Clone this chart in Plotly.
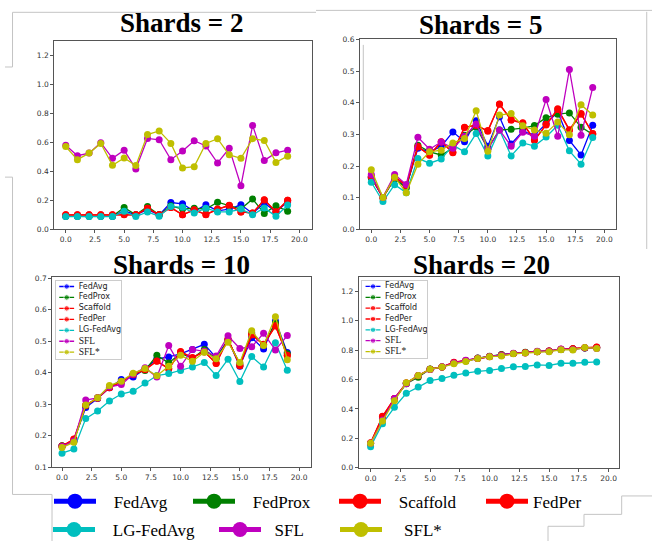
import plotly.graph_objects as go

W, H = 652, 548

# ---------------- data ----------------
ROUNDS = list(range(20))
METHODS = ["FedAvg", "FedProx", "Scaffold", "FedPer", "LG-FedAvg", "SFL", "SFL*"]
COLORS = ["#0000ff", "#008000", "#ff0000", "#ff0000", "#00bfbf", "#bf00bf", "#bfbf00"]
TITLES = ["Shards = 2", "Shards = 5", "Shards = 10", "Shards = 20"]

S2_FEDAVG = [0.09, 0.09, 0.09, 0.09, 0.09, 0.128, 0.10, 0.135, 0.10, 0.185, 0.176, 0.124, 0.169, 0.128, 0.14, 0.169, 0.11, 0.182, 0.12, 0.19]
S2_FEDPROX = [0.09, 0.09, 0.09, 0.09, 0.09, 0.151, 0.10, 0.158, 0.10, 0.162, 0.14, 0.146, 0.14, 0.187, 0.162, 0.14, 0.209, 0.11, 0.163, 0.124]
S2_SCAFFOLD = [0.10, 0.10, 0.10, 0.10, 0.10, 0.10, 0.10, 0.146, 0.10, 0.151, 0.10, 0.133, 0.103, 0.14, 0.164, 0.12, 0.112, 0.204, 0.122, 0.20]
S2_FEDPER = [0.10, 0.10, 0.10, 0.10, 0.10, 0.102, 0.10, 0.145, 0.10, 0.15, 0.10, 0.135, 0.10, 0.138, 0.166, 0.12, 0.113, 0.203, 0.12, 0.201]
S2_LGFEDAVG = [0.088, 0.088, 0.088, 0.088, 0.088, 0.124, 0.088, 0.12, 0.09, 0.158, 0.152, 0.113, 0.146, 0.12, 0.12, 0.14, 0.10, 0.148, 0.09, 0.167]
S2_SFL = [0.579, 0.507, 0.525, 0.597, 0.489, 0.545, 0.416, 0.626, 0.617, 0.48, 0.54, 0.61, 0.574, 0.457, 0.558, 0.30, 0.716, 0.475, 0.527, 0.545]
S2_SFLSTAR = [0.57, 0.48, 0.525, 0.592, 0.441, 0.491, 0.439, 0.653, 0.678, 0.592, 0.423, 0.432, 0.592, 0.624, 0.513, 0.489, 0.624, 0.612, 0.461, 0.504]

S5_FEDAVG = [0.163, 0.101, 0.16, 0.134, 0.256, 0.245, 0.262, 0.308, 0.277, 0.343, 0.263, 0.356, 0.27, 0.31, 0.297, 0.335, 0.371, 0.281, 0.235, 0.329]
S5_FEDPROX = [0.163, 0.101, 0.16, 0.131, 0.266, 0.245, 0.235, 0.256, 0.297, 0.323, 0.255, 0.314, 0.316, 0.32, 0.328, 0.353, 0.364, 0.368, 0.323, 0.30]
S5_SCAFFOLD = [0.167, 0.101, 0.165, 0.139, 0.262, 0.234, 0.276, 0.242, 0.323, 0.328, 0.312, 0.395, 0.345, 0.335, 0.281, 0.332, 0.379, 0.313, 0.364, 0.303]
S5_FEDPER = [0.166, 0.101, 0.166, 0.139, 0.26, 0.235, 0.277, 0.244, 0.322, 0.33, 0.31, 0.396, 0.347, 0.337, 0.283, 0.33, 0.381, 0.315, 0.366, 0.302]
S5_LGFEDAVG = [0.149, 0.088, 0.141, 0.116, 0.224, 0.209, 0.222, 0.266, 0.245, 0.303, 0.232, 0.314, 0.232, 0.273, 0.263, 0.292, 0.329, 0.248, 0.206, 0.29]
S5_SFL = [0.173, 0.101, 0.173, 0.142, 0.291, 0.253, 0.276, 0.256, 0.294, 0.333, 0.253, 0.314, 0.263, 0.307, 0.294, 0.41, 0.294, 0.505, 0.297, 0.448]
S5_SFLSTAR = [0.188, 0.101, 0.165, 0.116, 0.206, 0.245, 0.25, 0.273, 0.287, 0.375, 0.247, 0.361, 0.366, 0.327, 0.314, 0.304, 0.339, 0.299, 0.394, 0.361]

S10_FEDAVG = [0.167, 0.185, 0.289, 0.318, 0.352, 0.378, 0.386, 0.412, 0.444, 0.45, 0.46, 0.474, 0.49, 0.448, 0.505, 0.42, 0.511, 0.475, 0.564, 0.464]
S10_FEDPROX = [0.168, 0.183, 0.295, 0.32, 0.355, 0.372, 0.395, 0.407, 0.455, 0.431, 0.462, 0.445, 0.474, 0.445, 0.503, 0.428, 0.527, 0.488, 0.558, 0.46]
S10_SCAFFOLD = [0.166, 0.188, 0.296, 0.319, 0.352, 0.37, 0.393, 0.41, 0.437, 0.412, 0.467, 0.447, 0.468, 0.429, 0.507, 0.422, 0.522, 0.49, 0.548, 0.454]
S10_FEDPER = [0.167, 0.189, 0.297, 0.32, 0.353, 0.371, 0.394, 0.409, 0.436, 0.413, 0.466, 0.448, 0.466, 0.43, 0.506, 0.423, 0.52, 0.489, 0.549, 0.455]
S10_LGFEDAVG = [0.144, 0.157, 0.254, 0.278, 0.31, 0.332, 0.341, 0.367, 0.391, 0.397, 0.407, 0.418, 0.432, 0.391, 0.443, 0.372, 0.451, 0.418, 0.495, 0.408]
S10_SFL = [0.165, 0.183, 0.313, 0.32, 0.355, 0.362, 0.395, 0.416, 0.386, 0.486, 0.42, 0.474, 0.468, 0.453, 0.517, 0.477, 0.482, 0.525, 0.472, 0.518]
S10_SFLSTAR = [0.162, 0.179, 0.297, 0.32, 0.359, 0.373, 0.398, 0.413, 0.39, 0.42, 0.455, 0.436, 0.465, 0.444, 0.497, 0.432, 0.533, 0.486, 0.578, 0.441]

S20_FEDAVG = [0.165, 0.34, 0.468, 0.575, 0.625, 0.67, 0.685, 0.715, 0.728, 0.745, 0.757, 0.768, 0.778, 0.785, 0.791, 0.795, 0.805, 0.808, 0.815, 0.818]
S20_FEDPROX = [0.165, 0.335, 0.465, 0.572, 0.616, 0.672, 0.686, 0.713, 0.727, 0.746, 0.758, 0.771, 0.778, 0.786, 0.79, 0.793, 0.805, 0.81, 0.814, 0.816]
S20_SCAFFOLD = [0.17, 0.35, 0.472, 0.576, 0.627, 0.671, 0.686, 0.718, 0.73, 0.744, 0.756, 0.767, 0.778, 0.782, 0.79, 0.795, 0.806, 0.809, 0.817, 0.821]
S20_FEDPER = [0.168, 0.349, 0.471, 0.577, 0.626, 0.67, 0.685, 0.717, 0.729, 0.745, 0.757, 0.766, 0.777, 0.783, 0.791, 0.794, 0.806, 0.81, 0.816, 0.82]
S20_LGFEDAVG = [0.144, 0.30, 0.411, 0.507, 0.549, 0.593, 0.607, 0.629, 0.644, 0.656, 0.662, 0.676, 0.687, 0.689, 0.70, 0.696, 0.711, 0.711, 0.718, 0.72]
S20_SFL = [0.167, 0.325, 0.472, 0.572, 0.628, 0.668, 0.687, 0.712, 0.732, 0.745, 0.757, 0.765, 0.779, 0.781, 0.792, 0.792, 0.808, 0.805, 0.816, 0.811]
S20_SFLSTAR = [0.167, 0.318, 0.456, 0.578, 0.627, 0.671, 0.685, 0.707, 0.723, 0.744, 0.756, 0.76, 0.775, 0.78, 0.79, 0.79, 0.803, 0.802, 0.818, 0.812]

PANELS = [
    [S2_FEDAVG, S2_FEDPROX, S2_SCAFFOLD, S2_FEDPER, S2_LGFEDAVG, S2_SFL, S2_SFLSTAR],
    [S5_FEDAVG, S5_FEDPROX, S5_SCAFFOLD, S5_FEDPER, S5_LGFEDAVG, S5_SFL, S5_SFLSTAR],
    [S10_FEDAVG, S10_FEDPROX, S10_SCAFFOLD, S10_FEDPER, S10_LGFEDAVG, S10_SFL, S10_SFLSTAR],
    [S20_FEDAVG, S20_FEDPROX, S20_SCAFFOLD, S20_FEDPER, S20_LGFEDAVG, S20_SFL, S20_SFLSTAR],
]

# ---------------- layout helpers ----------------
def px(x):
    return x / W


def py(y):
    return 1 - y / H


# panel boxes in pixels: (left, right, top, bottom)
PANEL_BOX = [
    (54.3, 311.7, 37.3, 230.0),
    (360.0, 616.0, 36.0, 230.0),
    (52.3, 311.0, 278.3, 472.7),
    (358.7, 619.3, 279.0, 473.3),
]
X_RANGES = [[-0.98, 21.06], [-0.97, 21.0], [-0.82, 21.0], [-1.0, 20.9]]
Y_RANGES = [[0, 1.30], [0, 0.6005], [0.0995, 0.705], [0, 1.295]]
Y_DTICK = [0.2, 0.1, 0.1, 0.2]
Y_TICK0 = [0, 0, 0.1, 0]
TITLE_POS = [(181, 19), (480, 21), (181, 266), (482, 266)]

SERIF = "Liberation Serif, Times New Roman, serif"
SANS = "DejaVu Sans, sans-serif"
TICKFONT = dict(family=SANS, size=7.5, color="#333333")
AXCOL = "#555555"

fig = go.Figure()
layout = dict(
    width=W, height=H, autosize=False,
    margin=dict(l=0, r=0, t=0, b=0),
    paper_bgcolor="white", plot_bgcolor="white",
    showlegend=True,
)

for p in range(4):
    sfx = "" if p == 0 else str(p + 1)
    l, r, t, b = PANEL_BOX[p]
    layout["xaxis" + sfx] = dict(
        domain=[px(l), px(r)], range=X_RANGES[p], anchor="y" + sfx,
        tick0=0, dtick=2.5, tickformat=".1f", ticks="outside", ticklen=3,
        tickwidth=1, tickcolor=AXCOL, showline=True, linecolor=AXCOL,
        linewidth=1, mirror=True, showgrid=False, zeroline=False,
        tickfont=TICKFONT, fixedrange=True,
    )
    layout["yaxis" + sfx] = dict(
        domain=[py(b), py(t)], range=Y_RANGES[p], anchor="x" + sfx,
        tick0=Y_TICK0[p], dtick=Y_DTICK[p], tickformat=".1f", ticks="outside",
        ticklen=3, tickwidth=1, tickcolor=AXCOL, showline=True,
        linecolor=AXCOL, linewidth=1, mirror=True, showgrid=False,
        zeroline=False, tickfont=TICKFONT, fixedrange=True,
    )
    for k, name in enumerate(METHODS):
        fig.add_trace(go.Scatter(
            x=ROUNDS, y=PANELS[p][k], name=name, mode="lines+markers",
            line=dict(color=COLORS[k], width=1.3),
            marker=dict(color=COLORS[k], size=7),
            xaxis="x" + sfx, yaxis="y" + sfx, showlegend=False,
            hoverinfo="skip",
        ))

# ---------------- in-panel legends (panels 3 and 4) ----------------
INNER_BOX = [(56.0, 120.7, 282.7, 362.0), (362.3, 427.3, 282.7, 361.3)]
KEY_X = [0.05, 0.165, 0.28]
KEY_MARKER = [0, 5.5, 0]
LABEL_X = 0.35
LABEL_FONTS = [SANS, SANS, SANS, SANS, SANS, SERIF, SERIF]
LABEL_SIZES = [8, 8, 8, 8, 8, 9.5, 9.5]
for j, (l, r, t, b) in enumerate(INNER_BOX):
    n = 5 + j
    xa, ya = "xaxis%d" % n, "yaxis%d" % n
    layout[xa] = dict(domain=[px(l), px(r)], range=[0, 1], anchor="y%d" % n,
                      showline=True, mirror=True, linecolor="#cccccc", linewidth=1,
                      showgrid=False, zeroline=False, showticklabels=False,
                      ticks="", fixedrange=True)
    layout[ya] = dict(domain=[py(b), py(t)], range=[6.6, -0.5], anchor="x%d" % n,
                      showline=True, mirror=True, linecolor="#cccccc", linewidth=1,
                      showgrid=False, zeroline=False, showticklabels=False,
                      ticks="", fixedrange=True)
    for k, name in enumerate(METHODS):
        fig.add_trace(go.Scatter(
            x=KEY_X, y=[k] * len(KEY_X), mode="lines+markers",
            line=dict(color=COLORS[k], width=1.3),
            marker=dict(color=COLORS[k], size=KEY_MARKER),
            xaxis="x%d" % n, yaxis="y%d" % n, showlegend=False, hoverinfo="skip",
        ))
    fig.add_trace(go.Scatter(
        x=[LABEL_X] * len(METHODS), y=list(range(len(METHODS))), mode="text",
        text=METHODS, textposition="middle right",
        textfont=dict(family=LABEL_FONTS, size=LABEL_SIZES, color="#222222"),
        xaxis="x%d" % n, yaxis="y%d" % n, showlegend=False, hoverinfo="skip",
        cliponaxis=False,
    ))

# ---------------- bottom legend (one plotly legend per entry) ----------------
# (marker centre x px, row centre y px, leading pad)
BOTTOM_POS = [(75, 507, 3), (214, 507, 3), (360, 507, 3), (507, 507, 0),
              (74, 536, 3), (240, 536, 2), (361, 536, 4)]
ITEMW = 42
LEG_FONT = 17
for k, name in enumerate(METHODS):
    mx, cy, pad = BOTTOM_POS[k]
    lid = "legend" if k == 0 else "legend%d" % (k + 1)
    item_h = max(LEG_FONT * 1.3, 16) + 3
    top = cy - 5 - item_h / 2
    layout[lid] = dict(
        x=px(mx - (5 + ITEMW / 2)), y=py(top), xanchor="left", yanchor="top",
        orientation="h", bgcolor="rgba(0,0,0,0)", borderwidth=0,
        itemwidth=ITEMW, font=dict(family=SERIF, size=LEG_FONT, color="black"),
        itemclick=False, itemdoubleclick=False,
    )
    fig.add_trace(go.Scatter(
        x=[None], y=[None], name="\u00a0" * pad + name, mode="lines+markers",
        line=dict(color=COLORS[k], width=5), marker=dict(color=COLORS[k], size=15),
        legend=lid, showlegend=True, hoverinfo="skip",
    ))

# ---------------- titles ----------------
annotations = []
for (tx, ty), title in zip(TITLE_POS, TITLES):
    annotations.append(dict(
        x=px(tx), y=py(ty), xref="paper", yref="paper", text="<b>%s</b>" % title,
        showarrow=False, xanchor="center", yanchor="middle",
        font=dict(family=SERIF, size=27, color="black"),
    ))
layout["annotations"] = annotations

# ---------------- faint frame lines left over from the composed figure ----------------
FRAME_LINES = [
    [(316, 8.5), (12.5, 8.5), (12.5, 64.3), (5, 64.3)],
    [(316, 6.5), (652, 6.5)],
    [(5, 176.7), (12.5, 176.7), (12.5, 500.5), (52, 500.5), (52, 548)],
    [(363.3, 41.7), (363.3, 118.3)],
    [(646.7, 8), (646.7, 250)],
    [(652, 502), (621.7, 502), (621.7, 520.8), (584, 520.8), (584, 533),
     (548, 533), (548, 548)],
]
shapes = []
for pts in FRAME_LINES:
    path = "M " + " L ".join("%.4f,%.4f" % (px(x), py(y)) for x, y in pts)
    shapes.append(dict(type="path", path=path, xref="paper", yref="paper",
                       line=dict(color="#c4c4c4", width=1), layer="below"))
layout["shapes"] = shapes

fig.update_layout(**layout)
fig.write_html(
    "out.html",
    config={"displayModeBar": False, "staticPlot": True},
    post_script="document.body.style.margin='0';document.body.style.overflow='hidden';",
)
